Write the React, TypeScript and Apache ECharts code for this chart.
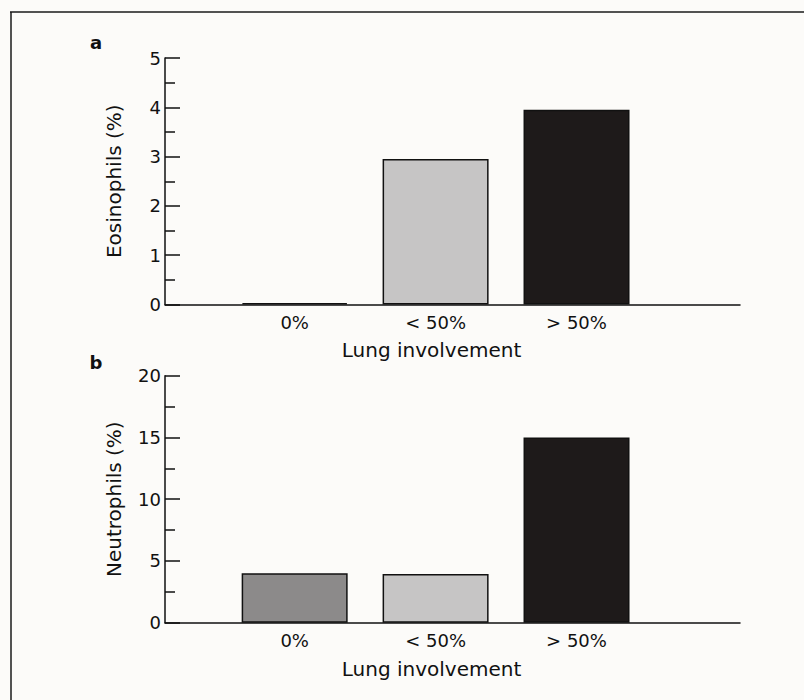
import React, { useEffect, useRef } from "react";
import * as echarts from "echarts";

const categories = ["0%", "< 50%", "> 50%"];
const eosinophils = [0.03, 2.95, 3.95];
const neutrophils = [4.0, 3.95, 15.0];
const barColors = ["#8c8a8a", "#c6c5c5", "#1e1a1a"];
const panelLabels = ["a", "b"];
const xTitle = "Lung involvement";
const yTitles = ["Eosinophils (%)", "Neutrophils (%)"];

const FONT = "'DejaVu Sans', 'Liberation Sans', Arial, sans-serif";

export default function App() {
  const ref = useRef<HTMLDivElement>(null);
  useEffect(() => {
    if (!ref.current) return;
    const chart = echarts.init(ref.current, undefined, { renderer: "svg" });
    const mkX = (gi: number) => ({
      type: "value",
      gridIndex: gi,
      min: -0.92,
      max: 3.16,
      axisLine: { show: true, onZero: false, lineStyle: { color: "#111", width: 1.5 } },
      axisTick: { show: false },
      splitLine: { show: false },
      axisLabel: {
        customValues: [0, 1, 2],
        formatter: (v: number) => categories[Math.round(v)] ?? "",
        color: "#111",
        fontSize: 18,
        fontFamily: FONT,
        margin: 9,
      },
    });
    const mkY = (gi: number, max: number, interval: number) => ({
      type: "value",
      gridIndex: gi,
      min: 0,
      max,
      interval,
      name: yTitles[gi],
      nameLocation: "middle",
      nameGap: 41,
      nameTextStyle: { color: "#111", fontSize: 20, fontFamily: FONT },
      axisLine: { show: true, onZero: false, lineStyle: { color: "#111", width: 1.5 } },
      axisTick: { show: true, inside: true, length: 15, lineStyle: { color: "#111", width: 1.5 } },
      minorTick: { show: true, splitNumber: 2, length: 10, lineStyle: { color: "#111", width: 1.5 } },
      splitLine: { show: false },
      minorSplitLine: { show: false },
      axisLabel: { color: "#111", fontSize: 18, fontFamily: FONT, margin: 4 },
    });
    const mkSeries = (gi: number, vals: number[]) => ({
      type: "bar",
      xAxisIndex: gi,
      yAxisIndex: gi,
      barWidth: 106,
      data: vals.map((v, i) => ({
        value: [i, v],
        itemStyle: { color: barColors[i], borderColor: "#111", borderWidth: 1.5 },
      })),
    });
    chart.setOption({
      animation: false,
      backgroundColor: "#fcfbf9",
      grid: [
        { left: 165, right: 64, top: 58, bottom: 395.5 },
        { left: 165, right: 64, top: 375.7, bottom: 77.3 },
      ],
      xAxis: [mkX(0), mkX(1)],
      yAxis: [mkY(0, 5, 1), mkY(1, 20, 5)],
      series: [mkSeries(0, eosinophils), mkSeries(1, neutrophils)],
      graphic: [
        { type: "line", shape: { x1: 10, y1: 12, x2: 804, y2: 12 }, style: { stroke: "#1a1a1a", lineWidth: 1.5 } },
        { type: "line", shape: { x1: 11, y1: 12, x2: 11, y2: 700 }, style: { stroke: "#1a1a1a", lineWidth: 1.5 } },
        {
          type: "text", x: 96, y: 42,
          style: { text: panelLabels[0], font: `bold 18px ${FONT}`, fill: "#111", align: "center", verticalAlign: "middle" },
        },
        {
          type: "text", x: 96, y: 362,
          style: { text: panelLabels[1], font: `bold 18px ${FONT}`, fill: "#111", align: "center", verticalAlign: "middle" },
        },
        {
          type: "text", x: 431.5, y: 350,
          style: { text: xTitle, font: `20px ${FONT}`, fill: "#111", align: "center", verticalAlign: "middle" },
        },
        {
          type: "text", x: 431.5, y: 669,
          style: { text: xTitle, font: `20px ${FONT}`, fill: "#111", align: "center", verticalAlign: "middle" },
        },
      ],
    });
    return () => chart.dispose();
  }, []);
  return (
    <div
      ref={ref}
      style={{ position: "absolute", left: 0, top: 0, width: 804, height: 700 }}
    />
  );
}
